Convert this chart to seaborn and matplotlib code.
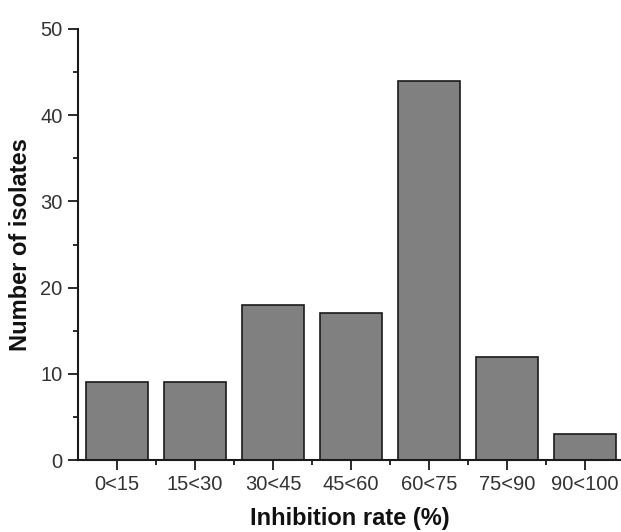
import matplotlib
matplotlib.use("Agg")
import matplotlib.pyplot as plt
import seaborn as sns
import pandas as pd
from matplotlib.ticker import MultipleLocator

categories = ["0<15", "15<30", "30<45", "45<60", "60<75", "75<90", "90<100"]
counts = [9, 9, 18, 17, 44, 12, 3]

df = pd.DataFrame({"Inhibition rate": categories, "Number of isolates": counts})

sns.set_style("ticks")
plt.rcParams["font.family"] = ["Liberation Sans", "DejaVu Sans"]

fig = plt.figure(figsize=(6.21, 5.32), dpi=100)
ax = fig.add_axes([0.1256, 0.1353, 0.8744, 0.8102])

sns.barplot(data=df, x="Inhibition rate", y="Number of isolates", color="#808080",
            saturation=1, width=0.8, edgecolor="#1a1a1a", linewidth=1.2, ax=ax)

ax.set_xlim(-0.5, 6.46)
ax.set_ylim(0, 50)
ax.yaxis.set_major_locator(MultipleLocator(10))
ax.yaxis.set_minor_locator(MultipleLocator(5))
ax.set_xticks([i + 0.5 for i in range(len(categories) - 1)], minor=True)

ax.tick_params(axis="both", which="major", direction="out", length=7, width=1.3,
               labelsize=14.5, colors="#1a1a1a", labelcolor="#333333", pad=4)
ax.tick_params(axis="both", which="minor", direction="out", length=3.6, width=1.3,
               colors="#1a1a1a")

for side in ["left", "bottom"]:
    ax.spines[side].set_linewidth(1.5)
    ax.spines[side].set_color("#1a1a1a")
sns.despine(ax=ax)

ax.set_xlabel("Inhibition rate (%)", fontsize=17, fontweight="bold", labelpad=9,
              color="#111111")
ax.set_ylabel("Number of isolates", fontsize=17, fontweight="bold", labelpad=6,
              color="#111111")

fig.savefig("out.png", dpi=100)
